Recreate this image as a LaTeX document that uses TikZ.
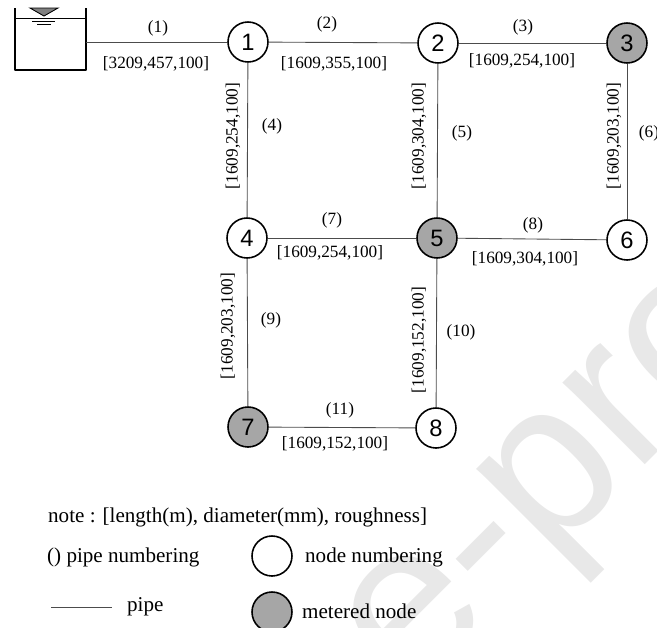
\documentclass[tikz,border=0pt]{standalone}
\usepackage{fontspec}
\setmainfont{Liberation Serif}
\newfontfamily\numfont{Liberation Sans}
\usepackage{xcolor}
\definecolor{meter}{gray}{0.65}
\definecolor{pipeline}{gray}{0.3}
\definecolor{wmgray}{gray}{0.91}

\begin{document}
\begin{tikzpicture}[x=0.02cm, y=-0.02cm, every node/.style={font=\fontsize{9.8pt}{12pt}\selectfont},
    junction/.style={circle, draw, line width=0.9pt, fill=white, minimum size=0.8cm, inner sep=0pt, font=\numfont\fontsize{13.5pt}{15pt}\selectfont},
    metered/.style={junction, fill=meter},
    pipe/.style={draw=pipeline, line width=0.5pt},
    len/.style={rotate=90},
    legend/.style={anchor=west, font=\fontsize{12pt}{14pt}\selectfont}]
    \useasboundingbox (0,0) rectangle (657,627);
    % Watermark
    \node[wmgray, rotate=45, font=\numfont\fontsize{125pt}{125pt}\selectfont] (wm) at (566,493) {e-pro};
    % Reservoir
    \draw[line width=1.3pt, line join=round] (15,8) -- (15,70) -- (86,70) -- (86,8);
    \draw[line width=0.5pt] (15,18) -- (86,18);
    \draw[line width=0.5pt, fill=gray] (30,8) -- (58,8) -- (44,16) -- cycle;
    \draw[line width=0.5pt] (32,21) -- (55,21);
    \draw[line width=0.5pt] (37,24) -- (51,24);
    \coordinate (R) at (86,42);
    % Nodes
    \node[junction] (n1) at (248,42) {1};
    \node[junction] (n2) at (438,43) {2};
    \node[metered]  (n3) at (627,43) {3};
    \node[junction] (n4) at (247,238) {4};
    \node[metered]  (n5) at (437,238) {5};
    \node[junction] (n6) at (627,240) {6};
    \node[metered]  (n7) at (248,427) {7};
    \node[junction] (n8) at (436,428) {8};
    % Pipes
    \draw[pipe] (R) -- (n1);
    \draw[pipe] (n1) -- (n2);
    \draw[pipe] (n2) -- (n3);
    \draw[pipe] (n1) -- (n4);
    \draw[pipe] (n2) -- (n5);
    \draw[pipe] (n3) -- (n6);
    \draw[pipe] (n4) -- (n5);
    \draw[pipe] (n5) -- (n6);
    \draw[pipe] (n4) -- (n7);
    \draw[pipe] (n5) -- (n8);
    \draw[pipe] (n7) -- (n8);
    % Pipe numbers
    \node (p1) at (158,28) {(1)};
    \node (p2) at (327,24) {(2)};
    \node (p3) at (523,27) {(3)};
    \node (p4) at (272,126) {(4)};
    \node (p5) at (462,133) {(5)};
    \node (p6) at (649,133) {(6)};
    \node (p7) at (332,220) {(7)};
    \node (p8) at (533,225) {(8)};
    \node (p9) at (271,320) {(9)};
    \node (p10) at (461,332) {(10)};
    \node (p11) at (340,410) {(11)};
    % Pipe data
    \node (d1) at (156,64) {[3209,457,100]};
    \node (d2) at (334,64) {[1609,355,100]};
    \node (d3) at (522,61) {[1609,254,100]};
    \node[len] (d4) at (233,136) {[1609,254,100]};
    \node[len] (d5) at (419,136) {[1609,304,100]};
    \node[len] (d6) at (614,136) {[1609,203,100]};
    \node (d7) at (330,253) {[1609,254,100]};
    \node (d8) at (525,259) {[1609,304,100]};
    \node[len] (d9) at (228,326) {[1609,203,100]};
    \node[len] (d10) at (419,340) {[1609,152,100]};
    \node (d11) at (335,444) {[1609,152,100]};
    % Legend
    \node[legend] (note) at (42,517) {note : [length(m), diameter(mm), roughness]};
    \node[legend] (lp) at (41,557) {() pipe numbering};
    \node[junction] (kn) at (272,556) {};
    \node[legend] (kt) at (299,557) {node numbering};
    \coordinate (ka) at (51,607);
    \coordinate (kb) at (112,607);
    \draw[pipe] (ka) -- (kb);
    \node[legend] (lq) at (121,607) {pipe};
    \node[metered] (km) at (272,612) {};
    \node[legend] (kr) at (296,611) {metered node};
\end{tikzpicture}
\end{document}
